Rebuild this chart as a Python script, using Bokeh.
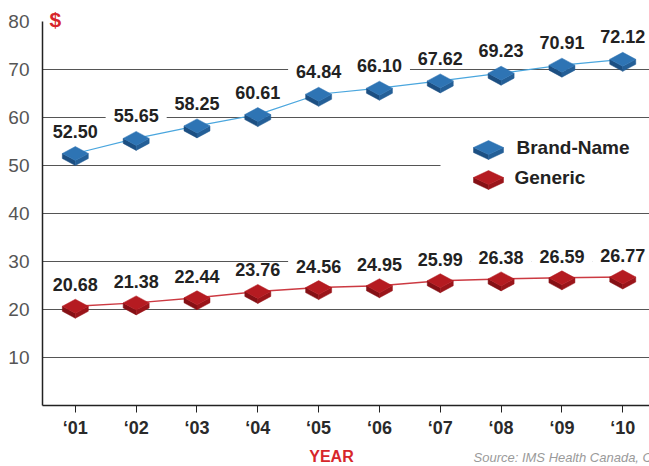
from bokeh.plotting import figure
from bokeh.models import Range1d, FixedTicker, Label
from bokeh.layouts import column
from bokeh.core.properties import value
from bokeh.embed import file_html
from bokeh.resources import INLINE

# ---- data ----
years = [1, 2, 3, 4, 5, 6, 7, 8, 9, 10]
year_labels = ["\u201801", "\u201802", "\u201803", "\u201804", "\u201805",
               "\u201806", "\u201807", "\u201808", "\u201809", "\u201810"]
brand = [52.50, 55.65, 58.25, 60.61, 64.84, 66.10, 67.62, 69.23, 70.91, 72.12]
generic = [20.68, 21.38, 22.44, 23.76, 24.56, 24.95, 25.99, 26.38, 26.59, 26.77]
brand_text = ["52.50", "55.65", "58.25", "60.61", "64.84", "66.10", "67.62", "69.23", "70.91", "72.12"]
generic_text = ["20.68", "21.38", "22.44", "23.76", "24.56", "24.95", "25.99", "26.38", "26.59", "26.77"]
y_ticks = [10, 20, 30, 40, 50, 60, 70, 80]
grid_ticks = [10, 20, 30, 40, 50, 60, 70]
series_names = ["Brand-Name", "Generic"]

# ---- layout ----
W = 649
LEFT = 42
FOOT_H = 26
MAIN_H = 466 - FOOT_H
FW, FH = W - LEFT, 405
X0, X1 = 0.46, 10.44
Y0, Y1 = 0, 84.375          # 80 sits 21 px below the top of the frame
PXX = FW / (X1 - X0)
PXY = FH / (Y1 - Y0)
FONT_NAME = "Liberation Sans"
FONT = value(FONT_NAME)

BLUE_TOP, BLUE_L, BLUE_R, BLUE_LINE = "#2e74b4", "#1c4f82", "#245f97", "#4aa6de"
RED_TOP, RED_L, RED_R, RED_LINE = "#b51b21", "#851015", "#9a151a", "#cc3a42"

p = figure(frame_width=FW, frame_height=FH,
           x_range=Range1d(X0, X1), y_range=Range1d(Y0, Y1),
           output_backend="svg", toolbar_location=None,
           min_border_left=LEFT, min_border_right=0,
           min_border_top=0, min_border_bottom=MAIN_H - FH)
p.extra_x_ranges = {"px": Range1d(0, FW)}
p.extra_y_ranges = {"py": Range1d(0, FH)}
p.outline_line_color = None
p.background_fill_color = "white"
p.border_fill_color = "white"

# axes
p.yaxis.ticker = FixedTicker(ticks=y_ticks)
p.yaxis.bounds = (0, 80)
p.yaxis.major_tick_line_color = None
p.yaxis.minor_tick_line_color = None
p.yaxis.axis_line_color = "#222222"
p.yaxis.axis_line_width = 1.5
p.yaxis.major_label_text_font = FONT_NAME
p.yaxis.major_label_text_font_size = "19px"
p.yaxis.major_label_text_color = "#555555"
p.yaxis.major_label_standoff = 7

p.xaxis.ticker = FixedTicker(ticks=years)
p.xaxis.major_label_overrides = {y: lab for y, lab in zip(years, year_labels)}
p.xaxis.major_tick_in = 0
p.xaxis.major_tick_out = 7
p.xaxis.major_tick_line_color = "#222222"
p.xaxis.minor_tick_line_color = None
p.xaxis.axis_line_color = "#222222"
p.xaxis.axis_line_width = 1.5
p.xaxis.major_label_text_font = FONT_NAME
p.xaxis.major_label_text_font_size = "18px"
p.xaxis.major_label_text_font_style = "bold"
p.xaxis.major_label_text_color = "#2a2a2a"
p.xaxis.major_label_standoff = 5

p.xgrid.grid_line_color = None
p.ygrid.ticker = FixedTicker(ticks=grid_ticks)
p.ygrid.grid_line_color = "#555555"
p.ygrid.grid_line_width = 1


def box_shapes(xs, ys, hw, hh, t, sx, sy):
    dx, dy, dt = hw / sx, hh / sy, t / sy
    top = ([], [])
    left = ([], [])
    right = ([], [])
    for x, y in zip(xs, ys):
        top[0].append([x - dx, x, x + dx, x])
        top[1].append([y, y + dy, y, y - dy])
        left[0].append([x - dx, x, x, x - dx])
        left[1].append([y, y - dy, y - dy - dt, y - dt])
        right[0].append([x, x + dx, x + dx, x])
        right[1].append([y - dy, y, y - dt, y - dy - dt])
    return top, left, right


def draw_boxes(fig, xs, ys, ctop, cl, cr, hw, hh, t, sx, sy, **kw):
    top, left, right = box_shapes(xs, ys, hw, hh, t, sx, sy)
    fig.patches(left[0], left[1], fill_color=cl, line_color=cl, line_width=0.5, **kw)
    fig.patches(right[0], right[1], fill_color=cr, line_color=cr, line_width=0.5, **kw)
    fig.patches(top[0], top[1], fill_color=ctop, line_color=ctop, line_width=0.5, **kw)


LABEL_PAD = dict(top=1, right=8, bottom=0, left=8)

# data labels (white backgrounds hide the grid lines behind them)
p.text(years, brand, text=brand_text, y_offset=-23, text_align="center",
       text_baseline="middle", text_font=FONT, text_font_style="bold",
       text_font_size="18px", text_color="#222222",
       background_fill_color="white", padding=LABEL_PAD)
p.text(years, generic, text=generic_text, y_offset=-22, text_align="center",
       text_baseline="middle", text_font=FONT, text_font_style="bold",
       text_font_size="18px", text_color="#222222",
       background_fill_color="white", padding=LABEL_PAD)

# lines
p.line(years, brand, line_color=BLUE_LINE, line_width=1.2)
p.line(years, generic, line_color=RED_LINE, line_width=1.5)

# markers
draw_boxes(p, years, brand, BLUE_TOP, BLUE_L, BLUE_R, 13, 7, 5, PXX, PXY)
draw_boxes(p, years, generic, RED_TOP, RED_L, RED_R, 13, 7, 5, PXX, PXY)

# legend (pixel coordinates of the frame)
p.quad(left=[398], right=[FW], bottom=[205], top=[283],
       x_range_name="px", y_range_name="py", fill_color="white", line_color=None)
draw_boxes(p, [446], [258], BLUE_TOP, BLUE_L, BLUE_R, 15, 7, 5, 1, 1,
           x_range_name="px", y_range_name="py")
draw_boxes(p, [446], [228], RED_TOP, RED_L, RED_R, 15, 7, 5, 1, 1,
           x_range_name="px", y_range_name="py")
for name, lx, ly in zip(series_names, [474, 472], [258, 228]):
    p.add_layout(Label(x=lx, y=ly, x_range_name="px", y_range_name="py",
                       text=name, text_align="left", text_baseline="middle",
                       text_font=FONT_NAME, text_font_size="19px",
                       text_font_style="bold", text_color="#222222"))

# unit sign at the top of the axis
p.add_layout(Label(x=7, y=386, x_range_name="px", y_range_name="py", text="$",
                   text_align="left", text_baseline="middle", text_font=FONT_NAME,
                   text_font_size="21px", text_font_style="bold", text_color="#d7262b"))

# footer strip: axis title and source line (x in page pixels)
f = figure(frame_width=FW, frame_height=FOOT_H,
           x_range=Range1d(LEFT, W), y_range=Range1d(0, FOOT_H),
           output_backend="svg", toolbar_location=None,
           x_axis_type=None, y_axis_type=None,
           min_border_left=LEFT, min_border_right=0, min_border_top=0, min_border_bottom=0)
f.outline_line_color = None
f.xgrid.grid_line_color = None
f.ygrid.grid_line_color = None
f.background_fill_color = "white"
f.border_fill_color = "white"
f.text([331], [10], text=["YEAR"], text_align="center", text_baseline="middle",
       text_font=FONT, text_font_size="16px", text_font_style="bold",
       text_color="#d7262b")
f.text([473], [9], text=["Source: IMS Health Canada, C"], text_align="left",
       text_baseline="middle", text_font=FONT, text_font_size="13px",
       text_font_style="italic", text_color="#9a9a9a")

open("out.html", "w").write(file_html(column(p, f, spacing=0), INLINE))
